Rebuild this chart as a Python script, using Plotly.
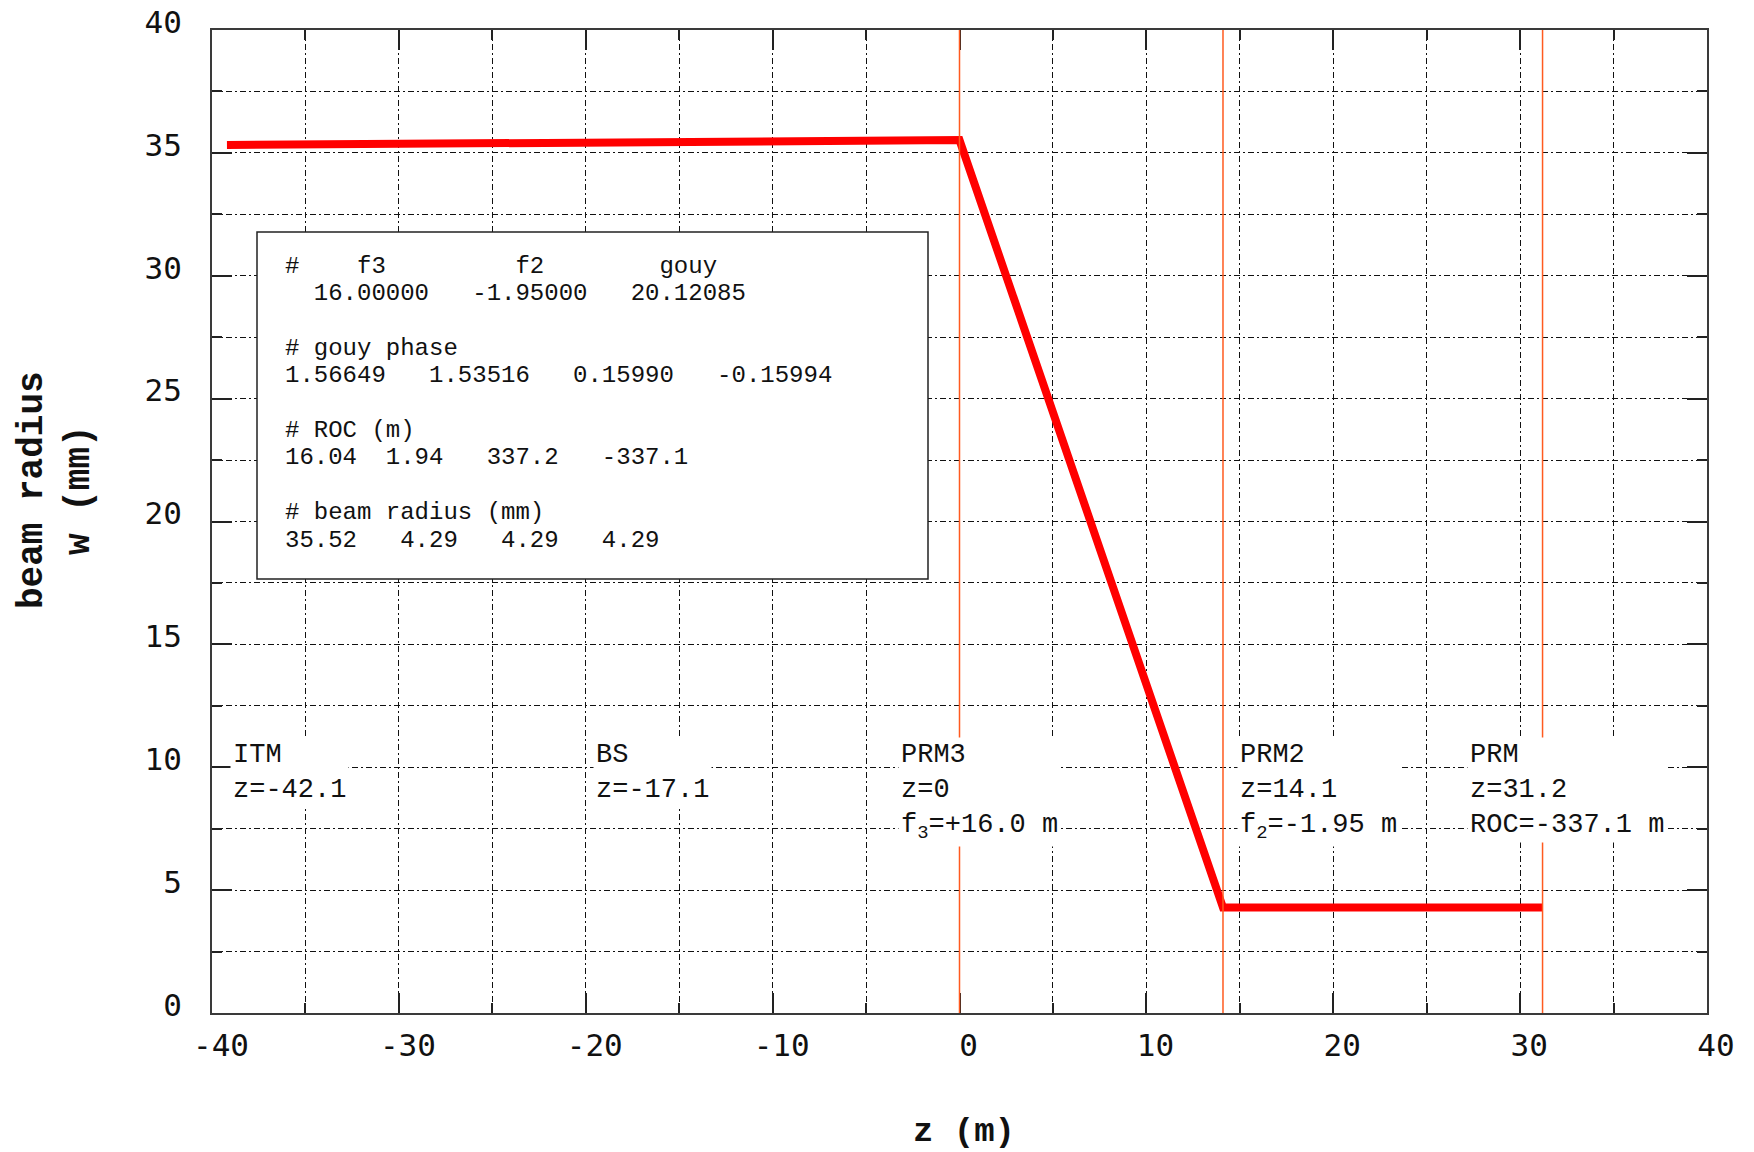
import plotly.graph_objects as go

# Beam radius along the optical axis (z in m, w in mm)
z_beam = [-39.2, -30.7, -17.0, 0.0, 14.1, 31.2]
w_beam = [35.32, 35.38, 35.45, 35.52, 4.29, 4.29]

# Optic positions (vertical markers)
mirror_z = [0.0, 14.1, 31.2]

# Optic labels: anchor z, lines of text
label_x = [-38.9, -19.45, -3.15, 15.0, 27.3]
label_text = [
    "ITM<br>z=-42.1",
    "BS<br>z=-17.1",
    "PRM3<br>z=0<br>f<sub>3</sub>=+16.0 m",
    "PRM2<br>z=14.1<br>f<sub>2</sub>=-1.95 m",
    "PRM<br>z=31.2<br>ROC=-337.1 m",
]

# Summary block
info_lines = [
    "#    f3         f2        gouy",
    "  16.00000   -1.95000   20.12085",
    "",
    "# gouy phase",
    "1.56649   1.53516   0.15990   -0.15994",
    "",
    "# ROC (m)",
    "16.04  1.94   337.2   -337.1",
    "",
    "# beam radius (mm)",
    "35.52   4.29   4.29   4.29",
]

x_ticks = [-40, -30, -20, -10, 0, 10, 20, 30, 40]
y_ticks = [0, 5, 10, 15, 20, 25, 30, 35, 40]

W, H = 1754, 1152
ML, MR, MT, MB = 212, 47, 30, 139
PW, PH = W - ML - MR, H - MT - MB


def px_x(px):
    return (px - ML) / PW


def px_y(py):
    return 1 - (py - MT) / PH


MONO = "Liberation Mono, Courier New, monospace"
GRID_DASH = "6px,3px,2px,3px"
GRID_COLOR = "#111111"

fig = go.Figure()

fig.add_trace(go.Scatter(
    x=z_beam, y=w_beam, mode="lines",
    line=dict(color="#ff0000", width=8),
    showlegend=False, hoverinfo="skip",
))

for zm in mirror_z:
    fig.add_shape(type="line", xref="x", yref="paper", x0=zm, x1=zm, y0=0, y1=1,
                  line=dict(color="#ff5a1f", width=1.5), layer="above")

# summary box
fig.add_shape(type="rect", xref="paper", yref="paper",
              x0=px_x(257), x1=px_x(928), y0=px_y(579), y1=px_y(232),
              line=dict(color="#222222", width=1.5), fillcolor="white", layer="above")

for i, line in enumerate(info_lines):
    if not line:
        continue
    fig.add_annotation(
        xref="paper", yref="paper", x=px_x(283), y=px_y(266 + 27.4 * i),
        xanchor="left", yanchor="middle", showarrow=False,
        text=line.replace(" ", "\u00a0"),
        font=dict(family=MONO, size=24, color="#111111"),
    )

for lx, lt in zip(label_x, label_text):
    fig.add_annotation(
        x=lx, y=11.25, xref="x", yref="y", xanchor="left", yanchor="top",
        showarrow=False, text=lt, align="left", bgcolor="white", borderpad=2,
        xshift=-3, font=dict(family=MONO, size=27, color="#111111"),
    )

# axis titles
fig.add_annotation(xref="paper", yref="paper", x=px_x(964), y=px_y(1132),
                   text="z (m)", showarrow=False, xanchor="center", yanchor="middle",
                   font=dict(family=MONO, size=34, color="#111111", weight="bold"))
fig.add_annotation(xref="paper", yref="paper", x=px_x(56), y=px_y(490),
                   text="beam radius<br>w (mm)", showarrow=False, textangle=-90,
                   xanchor="center", yanchor="middle",
                   font=dict(family=MONO, size=36, color="#111111", weight="bold"))

axis_common = dict(
    showline=True, linecolor="#3a3a3a", linewidth=2, mirror="allticks",
    ticks="inside", ticklen=20, tickwidth=1.5, tickcolor="#222222",
    showgrid=True, gridcolor=GRID_COLOR, gridwidth=1.4, griddash=GRID_DASH,
    zeroline=False, automargin=False,
    tickfont=dict(family="DejaVu Sans Mono, monospace", size=31, color="#111111"),
)

fig.update_xaxes(
    range=[-40, 40], tickvals=x_ticks, ticktext=[str(v) for v in x_ticks],
    ticklabelstandoff=4, ticklabelshift=9,
    minor=dict(dtick=5, tick0=0, ticks="inside", ticklen=10, tickcolor="#222222",
               showgrid=True, gridcolor=GRID_COLOR, gridwidth=1.4, griddash=GRID_DASH),
    **axis_common,
)
fig.update_yaxes(
    range=[0, 40], tickvals=y_ticks, ticktext=[str(v) for v in y_ticks],
    ticklabelstandoff=22, ticklabelshift=-8,
    minor=dict(dtick=2.5, tick0=0, ticks="inside", ticklen=10, tickcolor="#222222",
               showgrid=True, gridcolor=GRID_COLOR, gridwidth=1.4, griddash=GRID_DASH),
    **axis_common,
)

fig.update_layout(
    width=W, height=H,
    margin=dict(l=ML, r=MR, t=MT, b=MB, autoexpand=False),
    paper_bgcolor="white", plot_bgcolor="white",
    showlegend=False,
)

fig.write_html("out.html")
